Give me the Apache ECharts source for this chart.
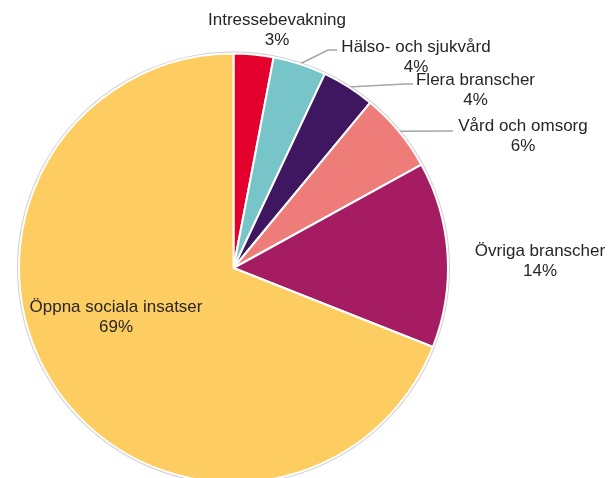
<!DOCTYPE html>
<html>
<head>
<meta charset="utf-8">
<script src="https://cdn.jsdelivr.net/npm/echarts@6/dist/echarts.min.js"></script>
<style>
html,body{margin:0;padding:0;background:#fff;}
#chart{width:611px;height:478px;}
</style>
</head>
<body>
<div id="chart"></div>
<script>
// Data
const categories = ['Intressebevakning', 'Hälso- och sjukvård', 'Flera branscher', 'Vård och omsorg', 'Övriga branscher', 'Öppna sociala insatser'];
const values = [3, 4, 4, 6, 14, 69];

// Styles
const colors = ['#E3002C', '#77C5C8', '#3F1660', '#EE7D7A', '#A51C63', '#FECD62'];
const labelPos = [[277, 30], [416, 57], [475.5, 90], [523, 136], [540, 261.5], [116, 317.5]];
const leaders = [null, [[328, 50], [337, 50]], [[405, 84], [413, 84]], [[445, 131], [453, 131]], null, null];
const insideIdx = 5;
const center = [233.5, 268];
const R = 214.5;

const chart = echarts.init(document.getElementById('chart'), null, {renderer: 'canvas'});

const data = categories.map((c, i) => {
  const d = {name: c, value: values[i], itemStyle: {color: colors[i]}};
  if (i === insideIdx) {
    d.label = {position: 'inside'};
    d.labelLine = {show: false};
  }
  return d;
});

chart.setOption({
  animation: false,
  series: [
    {
      type: 'pie',
      silent: true,
      center: center,
      radius: R + 2,
      data: [{value: 1, itemStyle: {color: '#CFCFCF'}}],
      label: {show: false},
      labelLine: {show: false},
      z: 1
    },
    {
      type: 'pie',
      center: center,
      radius: R,
      startAngle: 90,
      clockwise: true,
      data: data,
      z: 2,
      itemStyle: {borderColor: '#ffffff', borderWidth: 2},
      label: {
        show: true,
        position: 'outside',
        overflow: 'none',
        formatter: p => p.name + '\n' + p.value + '%',
        fontFamily: 'Liberation Sans, Arial, sans-serif',
        fontSize: 17,
        lineHeight: 20,
        color: '#262626',
        align: 'center'
      },
      labelLine: {
        show: true,
        length: 10,
        length2: 10,
        lineStyle: {color: '#A6A6A6', width: 1.5}
      },
      labelLayout: function (params) {
        const i = params.dataIndex;
        const out = {
          x: labelPos[i][0],
          y: labelPos[i][1],
          align: 'center',
          verticalAlign: 'middle'
        };
        const L = leaders[i];
        if (L && params.labelLinePoints) {
          const s = params.labelLinePoints[0];
          out.labelLinePoints = [s, L[0], L[1]];
        } else if (params.labelLinePoints) {
          out.labelLinePoints = [[0, 0], [0, 0], [0, 0]];
        }
        return out;
      }
    }
  ]
});
</script>
</body>
</html>
